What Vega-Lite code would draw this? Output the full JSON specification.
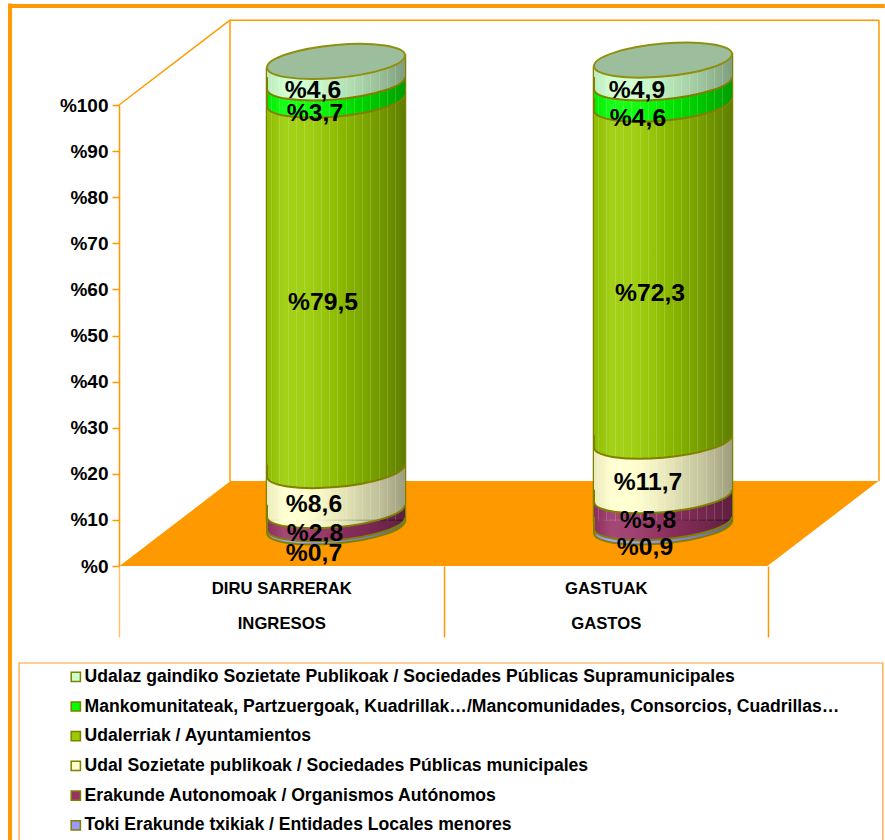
{"$schema":"https://vega.github.io/schema/vega-lite/v6.json","width":649,"height":461,"autosize":{"type":"none"},"padding":{"left":119,"top":105,"right":117,"bottom":274},"background":"#ffffff","config":{"view":{"stroke":null},"font":"Liberation Sans"},"datasets":{"rows":[{"cat":"DIRU SARRERAK / INGRESOS","series":"Toki Erakunde txikiak / Entidades Locales menores","ord":1,"value":0.7,"label":"%0,7"},{"cat":"DIRU SARRERAK / INGRESOS","series":"Erakunde Autonomoak / Organismos Autónomos","ord":2,"value":2.8,"label":"%2,8"},{"cat":"DIRU SARRERAK / INGRESOS","series":"Udal Sozietate publikoak / Sociedades Públicas municipales","ord":3,"value":8.6,"label":"%8,6"},{"cat":"DIRU SARRERAK / INGRESOS","series":"Udalerriak / Ayuntamientos","ord":4,"value":79.5,"label":"%79,5"},{"cat":"DIRU SARRERAK / INGRESOS","series":"Mankomunitateak, Partzuergoak, Kuadrillak…/Mancomunidades, Consorcios, Cuadrillas…","ord":5,"value":3.7,"label":"%3,7"},{"cat":"DIRU SARRERAK / INGRESOS","series":"Udalaz gaindiko Sozietate Publikoak / Sociedades Públicas Supramunicipales","ord":6,"value":4.6,"label":"%4,6"},{"cat":"GASTUAK / GASTOS","series":"Toki Erakunde txikiak / Entidades Locales menores","ord":1,"value":0.9,"label":"%0,9"},{"cat":"GASTUAK / GASTOS","series":"Erakunde Autonomoak / Organismos Autónomos","ord":2,"value":5.8,"label":"%5,8"},{"cat":"GASTUAK / GASTOS","series":"Udal Sozietate publikoak / Sociedades Públicas municipales","ord":3,"value":11.7,"label":"%11,7"},{"cat":"GASTUAK / GASTOS","series":"Udalerriak / Ayuntamientos","ord":4,"value":72.3,"label":"%72,3"},{"cat":"GASTUAK / GASTOS","series":"Mankomunitateak, Partzuergoak, Kuadrillak…/Mancomunidades, Consorcios, Cuadrillas…","ord":5,"value":4.6,"label":"%4,6"},{"cat":"GASTUAK / GASTOS","series":"Udalaz gaindiko Sozietate Publikoak / Sociedades Públicas Supramunicipales","ord":6,"value":4.9,"label":"%4,9"}]},"resolve":{"scale":{"x":"independent","y":"independent"}},"layer":[{"data":{"values":[{"part":"frame"}]},"layer":[{"mark":{"type":"rule","stroke":"#FF9900","strokeWidth":1.5},"encoding":{"x":{"datum":0,"type":"quantitative","title":null,"scale":{"domain":[0,2],"nice":false,"zero":false},"axis":{"values":[0,0.5,1,1.5,2],"title":null,"grid":false,"domain":false,"tickSize":71,"tickWidth":1.5,"tickColor":{"condition":{"test":"datum.value===0","value":"#FFC46E"},"value":"#FF9900"},"tickOpacity":{"condition":{"test":"datum.value===0.5||datum.value===1.5","value":0},"value":1},"labelExpr":"datum.value===0.5?['DIRU SARRERAK','INGRESOS']:datum.value===1.5?['GASTUAK','GASTOS']:''","labelFont":"Liberation Sans","labelFontWeight":"bold","labelFontSize":16.7,"labelColor":"#000000","labelLineHeight":35,"labelPadding":-57,"labelBaseline":"top","labelOverlap":false,"labelFlush":false}},"x2":{"datum":0.342},"y":{"datum":100,"type":"quantitative","title":null,"scale":{"domain":[0,100],"nice":false,"zero":false},"axis":{"values":[0,10,20,30,40,50,60,70,80,90,100],"title":null,"grid":false,"domain":true,"domainColor":"#FF9900","domainWidth":1.5,"tickSize":7,"tickWidth":1.5,"tickColor":"#FF9900","labelExpr":"'%'+datum.value","labelFont":"Liberation Sans","labelFontWeight":"bold","labelFontSize":19,"labelColor":"#000000","labelPadding":4,"labelOverlap":false,"labelFlush":false}},"y2":{"datum":118.4}}},{"mark":{"type":"rule","stroke":"#FF9900","strokeWidth":1.5},"encoding":{"x":{"datum":0.342,"type":"quantitative"},"y":{"datum":118.4,"type":"quantitative"},"y2":{"datum":18.4}}},{"mark":{"type":"rule","stroke":"#FF9900","strokeWidth":1.5},"encoding":{"x":{"datum":0.342,"type":"quantitative"},"x2":{"datum":2.342},"y":{"datum":118.4,"type":"quantitative"}}},{"mark":{"type":"rule","stroke":"#FF9900","strokeWidth":1.5},"encoding":{"x":{"datum":2.342,"type":"quantitative"},"y":{"datum":118.4,"type":"quantitative"},"y2":{"datum":18.4}}},{"mark":{"type":"point","filled":true,"fill":"#FF9900","opacity":1,"size":576000,"shape":"M-1,.112L.7075,.112L1,-.112L-.7075,-.112Z"},"encoding":{"x":{"datum":1.171,"type":"quantitative"},"y":{"datum":9.2,"type":"quantitative"}}},{"mark":{"type":"rule","stroke":"#FF9900","strokeWidth":4},"encoding":{"x":{"datum":-0.336,"type":"quantitative"},"x2":{"datum":2.36},"y":{"datum":121.5,"type":"quantitative"}}},{"mark":{"type":"rule","stroke":"#FF9900","strokeWidth":4},"encoding":{"x":{"datum":-0.336,"type":"quantitative"},"y":{"datum":122,"type":"quantitative"},"y2":{"datum":-60}}},{"mark":{"type":"rect","fill":"#ffffff","stroke":"#F7A02F","strokeWidth":1.2},"encoding":{"x":{"datum":-0.308,"type":"quantitative"},"x2":{"datum":2.354},"y":{"datum":-21.04,"type":"quantitative"},"y2":{"datum":-62}}}]},{"data":{"name":"rows"},"transform":[{"stack":"value","groupby":["cat"],"sort":[{"field":"ord","order":"ascending"}],"as":["y0","y1"]}],"layer":[{"transform":[{"filter":"datum.ord===6"}],"mark":{"type":"bar","fill":null,"stroke":"#808000","strokeWidth":2.5,"width":138},"encoding":{"x":{"field":"cat","type":"nominal","axis":null,"scale":{"type":"point","padding":0,"domain":["DIRU SARRERAK / INGRESOS","GASTUAK / GASTOS"],"range":[217,544]}},"y":{"field":"y1","type":"quantitative","axis":null,"scale":{"domain":[-9.66,89.27],"nice":false,"zero":false}},"y2":{"datum":0}}},{"mark":{"type":"bar","width":138},"encoding":{"x":{"field":"cat","type":"nominal","axis":null,"scale":{"type":"point","padding":0,"domain":["DIRU SARRERAK / INGRESOS","GASTUAK / GASTOS"],"range":[217,544]}},"y":{"field":"y1","type":"quantitative","axis":null,"scale":{"domain":[-9.66,89.27],"nice":false,"zero":false}},"y2":{"field":"y0"},"color":{"field":"series","type":"nominal","scale":{"domain":["Udalaz gaindiko Sozietate Publikoak / Sociedades Públicas Supramunicipales","Mankomunitateak, Partzuergoak, Kuadrillak…/Mancomunidades, Consorcios, Cuadrillas…","Udalerriak / Ayuntamientos","Udal Sozietate publikoak / Sociedades Públicas municipales","Erakunde Autonomoak / Organismos Autónomos","Toki Erakunde txikiak / Entidades Locales menores"],"range":["#CCFFCC","#00FF00","#99CC00","#FFFFCC","#993366","#9999FF"]},"legend":{"orient":"none","legendX":-52,"legendY":563,"title":null,"padding":0,"symbolType":"square","symbolSize":85,"symbolStrokeColor":"#808000","symbolStrokeWidth":1.5,"symbolOpacity":1,"labelFont":"Liberation Sans","labelFontWeight":"bold","labelFontSize":17.6,"labelColor":"#000000","labelLimit":900,"labelOffset":0,"rowPadding":10.7}}}},{"mark":{"type":"point","filled":true,"opacity":1,"size":19044,"shape":"M-1,.174C-1,.306,-.5523,.374,0,.326C.5523,.278,1,.132,1,0L1,-.02L-1,-.02Z"},"encoding":{"x":{"field":"cat","type":"nominal","axis":null,"scale":{"type":"point","padding":0,"domain":["DIRU SARRERAK / INGRESOS","GASTUAK / GASTOS"],"range":[217,544]}},"y":{"field":"y0","type":"quantitative","axis":null,"scale":{"domain":[-9.66,89.27],"nice":false,"zero":false}},"order":{"field":"ord"},"color":{"field":"series","type":"nominal"}}},{"transform":[{"filter":"datum.ord===1"}],"mark":{"type":"point","filled":true,"opacity":1,"size":19044,"shape":"M-1,.174C-1,.306,-.5523,.374,0,.326C.5523,.278,1,.132,1,0L1,-.02L-1,-.02Z","fill":{"gradient":"linear","x1":0,"x2":1,"y1":0,"y2":0,"stops":[{"offset":0,"color":"rgba(0,0,0,0.08)"},{"offset":0.12,"color":"rgba(255,255,255,0.1)"},{"offset":0.28,"color":"rgba(255,255,255,0.08)"},{"offset":0.55,"color":"rgba(0,0,0,0.1)"},{"offset":0.8,"color":"rgba(0,0,0,0.24)"},{"offset":1,"color":"rgba(0,0,0,0.38)"}]}},"encoding":{"x":{"field":"cat","type":"nominal","axis":null,"scale":{"type":"point","padding":0,"domain":["DIRU SARRERAK / INGRESOS","GASTUAK / GASTOS"],"range":[217,544]}},"y":{"field":"y0","type":"quantitative","axis":null,"scale":{"domain":[-9.66,89.27],"nice":false,"zero":false}}}},{"transform":[{"filter":"datum.ord===6"}],"mark":{"type":"bar","width":138,"fill":{"gradient":"linear","x1":0,"x2":1,"y1":0,"y2":0,"stops":[{"offset":0,"color":"rgba(0,0,0,0.08)"},{"offset":0.12,"color":"rgba(255,255,255,0.1)"},{"offset":0.28,"color":"rgba(255,255,255,0.08)"},{"offset":0.55,"color":"rgba(0,0,0,0.1)"},{"offset":0.8,"color":"rgba(0,0,0,0.24)"},{"offset":1,"color":"rgba(0,0,0,0.38)"}]}},"encoding":{"x":{"field":"cat","type":"nominal","axis":null,"scale":{"type":"point","padding":0,"domain":["DIRU SARRERAK / INGRESOS","GASTUAK / GASTOS"],"range":[217,544]}},"y":{"field":"y1","type":"quantitative","axis":null,"scale":{"domain":[-9.66,89.27],"nice":false,"zero":false}},"y2":{"datum":0}}},{"transform":[{"filter":"datum.ord===6"}],"mark":{"type":"bar","width":138,"fill":{"gradient":"linear","x1":0,"x2":1,"y1":0,"y2":0,"stops":[{"offset":0.03,"color":"rgba(255,255,255,0)"},{"offset":0.03,"color":"rgba(255,255,255,0.16)"},{"offset":0.037,"color":"rgba(255,255,255,0.16)"},{"offset":0.037,"color":"rgba(255,255,255,0)"},{"offset":0.09,"color":"rgba(255,255,255,0)"},{"offset":0.09,"color":"rgba(255,255,255,0.16)"},{"offset":0.097,"color":"rgba(255,255,255,0.16)"},{"offset":0.097,"color":"rgba(255,255,255,0)"},{"offset":0.15,"color":"rgba(255,255,255,0)"},{"offset":0.15,"color":"rgba(255,255,255,0.16)"},{"offset":0.157,"color":"rgba(255,255,255,0.16)"},{"offset":0.157,"color":"rgba(255,255,255,0)"},{"offset":0.21,"color":"rgba(255,255,255,0)"},{"offset":0.21,"color":"rgba(255,255,255,0.16)"},{"offset":0.217,"color":"rgba(255,255,255,0.16)"},{"offset":0.217,"color":"rgba(255,255,255,0)"},{"offset":0.27,"color":"rgba(255,255,255,0)"},{"offset":0.27,"color":"rgba(255,255,255,0.16)"},{"offset":0.277,"color":"rgba(255,255,255,0.16)"},{"offset":0.277,"color":"rgba(255,255,255,0)"},{"offset":0.33,"color":"rgba(255,255,255,0)"},{"offset":0.33,"color":"rgba(255,255,255,0.16)"},{"offset":0.337,"color":"rgba(255,255,255,0.16)"},{"offset":0.337,"color":"rgba(255,255,255,0)"},{"offset":0.39,"color":"rgba(255,255,255,0)"},{"offset":0.39,"color":"rgba(255,255,255,0.16)"},{"offset":0.397,"color":"rgba(255,255,255,0.16)"},{"offset":0.397,"color":"rgba(255,255,255,0)"},{"offset":0.45,"color":"rgba(255,255,255,0)"},{"offset":0.45,"color":"rgba(255,255,255,0.16)"},{"offset":0.457,"color":"rgba(255,255,255,0.16)"},{"offset":0.457,"color":"rgba(255,255,255,0)"},{"offset":0.51,"color":"rgba(255,255,255,0)"},{"offset":0.51,"color":"rgba(255,255,255,0.16)"},{"offset":0.517,"color":"rgba(255,255,255,0.16)"},{"offset":0.517,"color":"rgba(255,255,255,0)"},{"offset":0.57,"color":"rgba(255,255,255,0)"},{"offset":0.57,"color":"rgba(255,255,255,0.16)"},{"offset":0.577,"color":"rgba(255,255,255,0.16)"},{"offset":0.577,"color":"rgba(255,255,255,0)"},{"offset":0.63,"color":"rgba(255,255,255,0)"},{"offset":0.63,"color":"rgba(255,255,255,0.16)"},{"offset":0.637,"color":"rgba(255,255,255,0.16)"},{"offset":0.637,"color":"rgba(255,255,255,0)"},{"offset":0.69,"color":"rgba(255,255,255,0)"},{"offset":0.69,"color":"rgba(255,255,255,0.16)"},{"offset":0.697,"color":"rgba(255,255,255,0.16)"},{"offset":0.697,"color":"rgba(255,255,255,0)"},{"offset":0.75,"color":"rgba(255,255,255,0)"},{"offset":0.75,"color":"rgba(255,255,255,0.16)"},{"offset":0.757,"color":"rgba(255,255,255,0.16)"},{"offset":0.757,"color":"rgba(255,255,255,0)"},{"offset":0.81,"color":"rgba(255,255,255,0)"},{"offset":0.81,"color":"rgba(255,255,255,0.16)"},{"offset":0.817,"color":"rgba(255,255,255,0.16)"},{"offset":0.817,"color":"rgba(255,255,255,0)"},{"offset":0.87,"color":"rgba(255,255,255,0)"},{"offset":0.87,"color":"rgba(255,255,255,0.16)"},{"offset":0.877,"color":"rgba(255,255,255,0.16)"},{"offset":0.877,"color":"rgba(255,255,255,0)"},{"offset":0.93,"color":"rgba(255,255,255,0)"},{"offset":0.93,"color":"rgba(255,255,255,0.16)"},{"offset":0.937,"color":"rgba(255,255,255,0.16)"},{"offset":0.937,"color":"rgba(255,255,255,0)"}]}},"encoding":{"x":{"field":"cat","type":"nominal","axis":null,"scale":{"type":"point","padding":0,"domain":["DIRU SARRERAK / INGRESOS","GASTUAK / GASTOS"],"range":[217,544]}},"y":{"field":"y1","type":"quantitative","axis":null,"scale":{"domain":[-9.66,89.27],"nice":false,"zero":false}},"y2":{"datum":0}}},{"mark":{"type":"point","filled":false,"fill":null,"stroke":"#808000","strokeWidth":2,"opacity":1,"size":19044,"shape":"M-1,0L-1,.174C-1,.306,-.5523,.374,0,.326C.5523,.278,1,.132,1,0"},"encoding":{"x":{"field":"cat","type":"nominal","axis":null,"scale":{"type":"point","padding":0,"domain":["DIRU SARRERAK / INGRESOS","GASTUAK / GASTOS"],"range":[217,544]}},"y":{"field":"y0","type":"quantitative","axis":null,"scale":{"domain":[-9.66,89.27],"nice":false,"zero":false}},"order":{"field":"ord"}}},{"transform":[{"filter":"datum.ord===6"}],"mark":{"type":"point","filled":true,"fill":"#ffffff","opacity":1,"size":19044,"shape":"M-1.04,-.16L-1.04,.174L-1,.174C-1,.042,-.5523,-.104,0,-.152L-1.04,-.16Z"},"encoding":{"x":{"field":"cat","type":"nominal","axis":null,"scale":{"type":"point","padding":0,"domain":["DIRU SARRERAK / INGRESOS","GASTUAK / GASTOS"],"range":[217,544]}},"y":{"field":"y1","type":"quantitative","axis":null,"scale":{"domain":[-9.66,89.27],"nice":false,"zero":false}}}},{"transform":[{"filter":"datum.ord===6"}],"mark":{"type":"point","filled":true,"fill":"#9DBE9D","stroke":"#8F8F10","strokeWidth":2,"opacity":1,"size":19044,"shape":"M-1,.174C-1,.042,-.5523,-.104,0,-.152C.5523,-.2,1,-.132,1,0C1,.132,.5523,.278,0,.326C-.5523,.374,-1,.306,-1,.174Z"},"encoding":{"x":{"field":"cat","type":"nominal","axis":null,"scale":{"type":"point","padding":0,"domain":["DIRU SARRERAK / INGRESOS","GASTUAK / GASTOS"],"range":[217,544]}},"y":{"field":"y1","type":"quantitative","axis":null,"scale":{"domain":[-9.66,89.27],"nice":false,"zero":false}}}},{"mark":{"type":"text","font":"Liberation Sans","fontWeight":"bold","fontSize":24.7,"baseline":"middle","color":"#000000","dx":{"expr":"(datum.cat==='GASTUAK / GASTOS'?[0,-18,-15,-15,-13,-25,-26]:[0,-22,-21,-22,-13,-21,-23])[datum.ord]"},"dy":{"expr":"(datum.cat==='GASTUAK / GASTOS'?[0,29,18,20,27,31,26]:[0,35,23,20,24,28,25])[datum.ord]"}},"encoding":{"x":{"field":"cat","type":"nominal","axis":null,"scale":{"type":"point","padding":0,"domain":["DIRU SARRERAK / INGRESOS","GASTUAK / GASTOS"],"range":[217,544]}},"y":{"field":"value","type":"quantitative","axis":null,"stack":"zero","bandPosition":0.5,"scale":{"domain":[-9.66,89.27],"nice":false,"zero":false}},"order":{"field":"ord"},"detail":{"field":"ord"},"text":{"field":"label"}}}]}]}
